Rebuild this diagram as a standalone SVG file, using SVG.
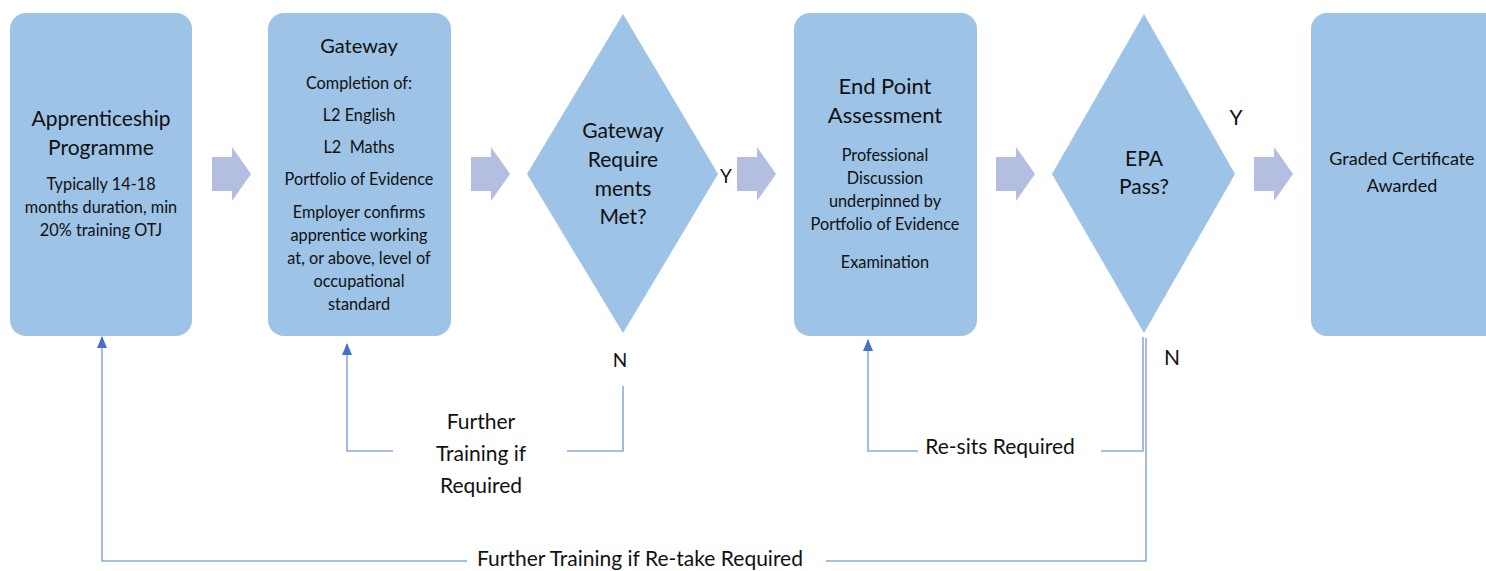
<svg xmlns="http://www.w3.org/2000/svg" width="1486" height="571" viewBox="0 0 1486 571">
<style>
.box{fill:#9DC3E6}
.blk{fill:#B4BEE0}
.t{font-family:Lato,"Liberation Sans",sans-serif;fill:#111;text-anchor:middle}
.h{font-size:21px}
.s{font-size:16.3px}
.c{fill:none;stroke:#8EAADB;stroke-width:1.6}
.lbl{font-family:Lato,"Liberation Sans",sans-serif;fill:#111;font-size:21px;text-anchor:middle}
</style>
<defs>
<marker id="ah" viewBox="0 0 12 10" refX="11" refY="5" markerWidth="12" markerHeight="10" markerUnits="userSpaceOnUse" orient="auto">
<path d="M0,0 L12,5 L0,10 Z" fill="#4472C4"/>
</marker>
</defs>
<rect width="1486" height="571" fill="#fff"/>
<g id="n1">
<rect class="box" x="10" y="13" width="182" height="323" rx="16"/>
<text class="t h" x="101" y="126">Apprenticeship</text>
<text class="t h" x="101" y="155">Programme</text>
<text class="t s" x="101" y="190">Typically 14-18</text>
<text class="t s" x="101" y="213">months duration, min</text>
<text class="t s" x="101" y="236">20% training OTJ</text>
</g>
<g id="n2">
<rect class="box" x="268" y="13" width="183" height="323" rx="16"/>
<text class="t" style="font-size:20px" x="359" y="53">Gateway</text>
<text class="t s" x="359" y="89">Completion of:</text>
<text class="t s" x="359" y="121">L2 English</text>
<text class="t s" x="359" y="153" xml:space="preserve">L2  Maths</text>
<text class="t s" x="359" y="185">Portfolio of Evidence</text>
<text class="t s" x="359" y="218">Employer confirms</text>
<text class="t s" x="359" y="241">apprentice working</text>
<text class="t s" x="359" y="264">at, or above, level of</text>
<text class="t s" x="359" y="287">occupational</text>
<text class="t s" x="359" y="310">standard</text>
</g>
<g id="d1">
<polygon class="box" points="623,14 718,174 623,333 527,174"/>
<text class="t h" x="623" y="138">Gateway</text>
<text class="t h" x="623" y="167">Require</text>
<text class="t h" x="623" y="196">ments</text>
<text class="t h" x="623" y="224">Met?</text>
</g>
<g id="n3">
<rect class="box" x="794" y="13" width="183" height="323" rx="16"/>
<text class="t" style="font-size:22px" x="885" y="94">End Point</text>
<text class="t" style="font-size:22px" x="885" y="123">Assessment</text>
<text class="t s" x="885" y="161">Professional</text>
<text class="t s" x="885" y="184">Discussion</text>
<text class="t s" x="885" y="207">underpinned by</text>
<text class="t s" x="885" y="230">Portfolio of Evidence</text>
<text class="t s" x="885" y="268">Examination</text>
</g>
<g id="d2">
<polygon class="box" points="1144,14 1235,174 1144,333 1052,174"/>
<text class="t h" x="1144" y="166">EPA</text>
<text class="t h" x="1144" y="194">Pass?</text>
</g>
<g id="n4">
<rect class="box" x="1311" y="13" width="190" height="323" rx="16"/>
<text class="t" style="font-size:18px" x="1402" y="165">Graded Certificate</text>
<text class="t" style="font-size:18px" x="1402" y="192">Awarded</text>
</g>
<g id="flow-arrows">
<polygon class="blk" points="212,157 232,157 232,147 251,174 232,201 232,191 212,191"/>
<polygon class="blk" points="471,157 491,157 491,147 510,174 491,201 491,191 471,191"/>
<polygon class="blk" points="737,157 757,157 757,147 776,174 757,201 757,191 737,191"/>
<polygon class="blk" points="996,157 1016,157 1016,147 1035,174 1016,201 1016,191 996,191"/>
<polygon class="blk" points="1254,157 1274,157 1274,147 1293,174 1274,201 1274,191 1254,191"/>
</g>
<g id="connectors">
<polyline class="c" points="623,386 623,451 567,451"/>
<polyline class="c" points="393,451 347,451 347,344" marker-end="url(#ah)"/>
<polyline class="c" points="1143,337 1143,451 1101,451"/>
<polyline class="c" points="918,451 868,451 868,340" marker-end="url(#ah)"/>
<polyline class="c" points="1146,338 1146,561 826,561"/>
<polyline class="c" points="467,561 102,561 102,337" marker-end="url(#ah)"/>
</g>
<g id="labels">
<text class="lbl" style="font-size:19px" x="726" y="183">Y</text>
<text class="lbl" x="1236" y="125">Y</text>
<text class="lbl" style="font-size:19px" x="620" y="367">N</text>
<text class="lbl" x="1172" y="365">N</text>
<text class="lbl" x="481" y="429">Further</text>
<text class="lbl" x="481" y="461">Training if</text>
<text class="lbl" x="481" y="493">Required</text>
<text class="lbl" x="1000" y="454">Re-sits Required</text>
<text class="lbl" x="640" y="566">Further Training if Re-take Required</text>
</g>
</svg>
